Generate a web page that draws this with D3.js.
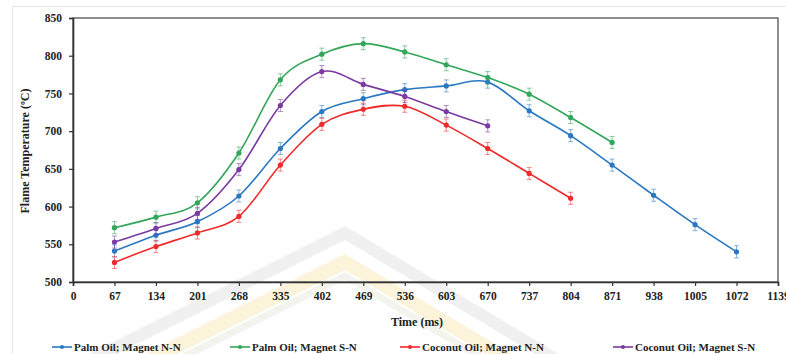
<!DOCTYPE html>
<html>
<head>
<meta charset="utf-8">
<script src="https://cdn.jsdelivr.net/npm/d3@7"></script>
<style>
  body { margin: 0; background: #fff; }
  text { font-family: "Liberation Serif", "Times New Roman", serif; font-weight: bold; fill: #222; }
</style>
</head>
<body>
<svg id="chart" width="786" height="354"></svg>
<script>
// time axis ticks (ms)
const xTicks = [0, 67, 134, 201, 268, 335, 402, 469, 536, 603, 670, 737, 804, 871, 938, 1005, 1072, 1139];
const yTicks = [500, 550, 600, 650, 700, 750, 800, 850];

const palmNN = [541, 562, 580, 614, 677, 726, 743, 755, 760, 765, 727, 694, 655, 615, 576, 540];
const palmSN = [572, 586, 605, 671, 768, 802, 816, 805, 788, 771, 749, 718, 685];
const coconutNN = [526, 547, 565, 587, 655, 709, 729, 733, 708, 677, 644, 611];
const coconutSN = [553, 571, 591, 649, 734, 779, 762, 746, 726, 707];
const errBar = 8;

const seriesNames = ["Palm Oil; Magnet N-N", "Palm Oil; Magnet S-N", "Coconut Oil; Magnet N-N", "Coconut Oil; Magnet S-N"];
const seriesColors = ["#2a78c2", "#33a65a", "#ee2a2a", "#7a3aa0"];
const seriesValues = [palmNN, palmSN, coconutNN, coconutSN];

const svg = d3.select("#chart");
const margin = { top: 18, right: 8, bottom: 72, left: 73 };
const width = 786 - margin.left - margin.right;
const height = 354 - margin.top - margin.bottom;

// faint page border + watermark
svg.append("path")
  .attr("d", "M12.5,354 V6.5 H786")
  .attr("fill", "none")
  .attr("stroke", "#e6e6e6");

const wm = svg.append("g");
function chevron(apexX, apexY, thick, sl, sr) {
  const yb = 354;
  const l1 = apexX - (yb - apexY) / sl, r1 = apexX + (yb - apexY) / sr;
  const l2 = apexX - (yb - apexY - thick) / sl, r2 = apexX + (yb - apexY - thick) / sr;
  return `M${l1},${yb} L${apexX},${apexY} L${r1},${yb} L${r2},${yb} L${apexX},${apexY + thick} L${l2},${yb} Z`;
}
wm.append("path").attr("d", chevron(345, 226, 14, 0.5, 0.6)).attr("fill", "#f0f0f0");
wm.append("path").attr("d", chevron(345, 254, 16, 0.5, 0.6)).attr("fill", "#fbf4da");
wm.append("path").attr("d", chevron(345, 272, 8, 0.5, 0.6)).attr("fill", "#f4f4ee");

const g = svg.append("g").attr("transform", `translate(${margin.left},${margin.top})`);

const x = d3.scaleLinear().domain([0, 1139]).range([0, width]);
const y = d3.scaleLinear().domain([500, 850]).range([height, 0]);

// plot frame
g.append("rect")
  .attr("width", width)
  .attr("height", height)
  .attr("fill", "none")
  .attr("stroke", "#444")
  .attr("stroke-width", 1.2);

const xAxis = g.append("g")
  .attr("transform", `translate(0,${height})`)
  .call(d3.axisBottom(x).tickValues(xTicks).tickSize(4).tickPadding(6).tickFormat(d3.format("d")));
const yAxis = g.append("g")
  .call(d3.axisLeft(y).tickValues(yTicks).tickSize(4).tickPadding(7));

[xAxis, yAxis].forEach(a => {
  a.selectAll(".domain").attr("stroke", "#333").attr("stroke-width", 1.6);
  a.selectAll(".tick line").attr("stroke", "#333").attr("stroke-width", 1.2);
  a.selectAll("text").attr("font-size", 11.5).attr("font-family", null).attr("fill", "#222");
});

// axis titles
svg.append("text")
  .attr("x", 417)
  .attr("y", 326)
  .attr("text-anchor", "middle")
  .attr("font-size", 12)
  .text("Time (ms)");
svg.append("text")
  .attr("transform", "translate(29,151) rotate(-90)")
  .attr("text-anchor", "middle")
  .attr("font-size", 12)
  .text("Flame Temperature (ºC)");

const line = d3.line()
  .x((d, i) => x(xTicks[i + 1]))
  .y(d => y(d))
  .curve(d3.curveCatmullRom.alpha(0));

seriesValues.forEach((vals, s) => {
  const col = seriesColors[s];
  const sg = g.append("g");
  sg.append("path")
    .datum(vals)
    .attr("d", line)
    .attr("fill", "none")
    .attr("stroke", col)
    .attr("stroke-width", 1.6);

  const eb = sg.selectAll(".err")
    .data(vals)
    .enter()
    .append("g")
    .attr("stroke", col)
    .attr("stroke-opacity", 0.55)
    .attr("stroke-width", 1);
  eb.append("line")
    .attr("x1", (d, i) => x(xTicks[i + 1]))
    .attr("x2", (d, i) => x(xTicks[i + 1]))
    .attr("y1", d => y(d - errBar))
    .attr("y2", d => y(d + errBar));
  [-errBar, errBar].forEach(e => {
    eb.append("line")
      .attr("x1", (d, i) => x(xTicks[i + 1]) - 2.5)
      .attr("x2", (d, i) => x(xTicks[i + 1]) + 2.5)
      .attr("y1", d => y(d + e))
      .attr("y2", d => y(d + e));
  });

  sg.selectAll("circle")
    .data(vals)
    .enter()
    .append("circle")
    .attr("cx", (d, i) => x(xTicks[i + 1]))
    .attr("cy", d => y(d))
    .attr("r", 2.6)
    .attr("fill", col);
});

// legend
const legendX = [52, 230, 400, 613];
const legend = svg.append("g").attr("transform", "translate(0,347)");
seriesNames.forEach((name, s) => {
  const lg = legend.append("g").attr("transform", `translate(${legendX[s]},0)`);
  lg.append("line").attr("x1", 0).attr("x2", 20).attr("stroke", seriesColors[s]).attr("stroke-width", 1.6);
  lg.append("circle").attr("cx", 10).attr("r", 2).attr("fill", seriesColors[s]);
  lg.append("text").attr("x", 22).attr("y", 4).attr("font-size", 11).text(name);
});
</script>
</body>
</html>
